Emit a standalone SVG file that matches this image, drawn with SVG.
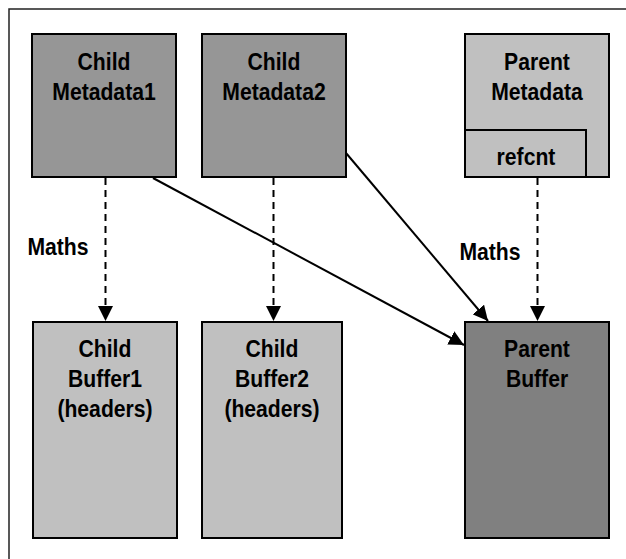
<svg xmlns="http://www.w3.org/2000/svg" width="626" height="559" viewBox="0 0 626 559">
<style>
text{font-family:"Liberation Sans",Arial,sans-serif;font-weight:bold;font-size:23.5px;fill:#000;text-anchor:middle}
.box{stroke:#000;stroke-width:2}
.dark{fill:#969696}
.light{fill:#c0c0c0}
.darker{fill:#808080}
.dash{stroke:#000;stroke-width:2;stroke-dasharray:7 5;fill:none}
.solid{stroke:#000;stroke-width:2;fill:none}
</style>
<defs>
<marker id="ah" viewBox="0 0 10 10" refX="10" refY="5" markerWidth="7.5" markerHeight="7.5" markerUnits="strokeWidth" orient="auto">
<path d="M0,0 L10,5 L0,10 z" fill="#000"/>
</marker>
</defs>
<rect x="9" y="9" width="640" height="580" fill="#fff" stroke="#222" stroke-width="1.5"/>
<g id="connectors">
<line class="dash" x1="105.5" y1="178" x2="105.5" y2="321" marker-end="url(#ah)"/>
<line class="dash" x1="273.5" y1="178" x2="273.5" y2="321" marker-end="url(#ah)"/>
<line class="dash" x1="537.5" y1="178" x2="537.5" y2="321" marker-end="url(#ah)"/>
<line class="solid" x1="153" y1="178" x2="464" y2="345" marker-end="url(#ah)"/>
<line class="solid" x1="346" y1="153" x2="488" y2="321" marker-end="url(#ah)"/>
<g transform="scale(0.9,1)">
<text x="64.44" y="255">Maths</text>
<text x="544.44" y="260">Maths</text>
</g>
</g>
<g id="child-metadata1">
<rect class="box dark" x="32" y="34" width="144" height="143"/>
<g transform="scale(0.9,1)">
<text x="115.56" y="70">Child</text>
<text x="115.56" y="100">Metadata1</text>
</g>
</g>
<g id="child-metadata2">
<rect class="box dark" x="202" y="34" width="144" height="143"/>
<g transform="scale(0.9,1)">
<text x="304.44" y="70">Child</text>
<text x="304.44" y="100">Metadata2</text>
</g>
</g>
<g id="parent-metadata">
<rect class="box light" x="465" y="34" width="144" height="143"/>
<rect class="box light" x="465" y="130" width="121" height="47"/>
<g transform="scale(0.9,1)">
<text x="596.67" y="70">Parent</text>
<text x="596.67" y="100">Metadata</text>
<text x="584.44" y="165">refcnt</text>
</g>
</g>
<g id="child-buffer1">
<rect class="box light" x="33" y="322" width="144" height="216"/>
<g transform="scale(0.9,1)">
<text x="116.67" y="357">Child</text>
<text x="116.67" y="387">Buffer1</text>
<text x="116.67" y="417">(headers)</text>
</g>
</g>
<g id="child-buffer2">
<rect class="box light" x="202" y="322" width="140" height="216"/>
<g transform="scale(0.9,1)">
<text x="302.22" y="357">Child</text>
<text x="302.22" y="387">Buffer2</text>
<text x="302.22" y="417">(headers)</text>
</g>
</g>
<g id="parent-buffer">
<rect class="box darker" x="465" y="322" width="144" height="216"/>
<g transform="scale(0.9,1)">
<text x="596.67" y="357">Parent</text>
<text x="596.67" y="387">Buffer</text>
</g>
</g>
</svg>
